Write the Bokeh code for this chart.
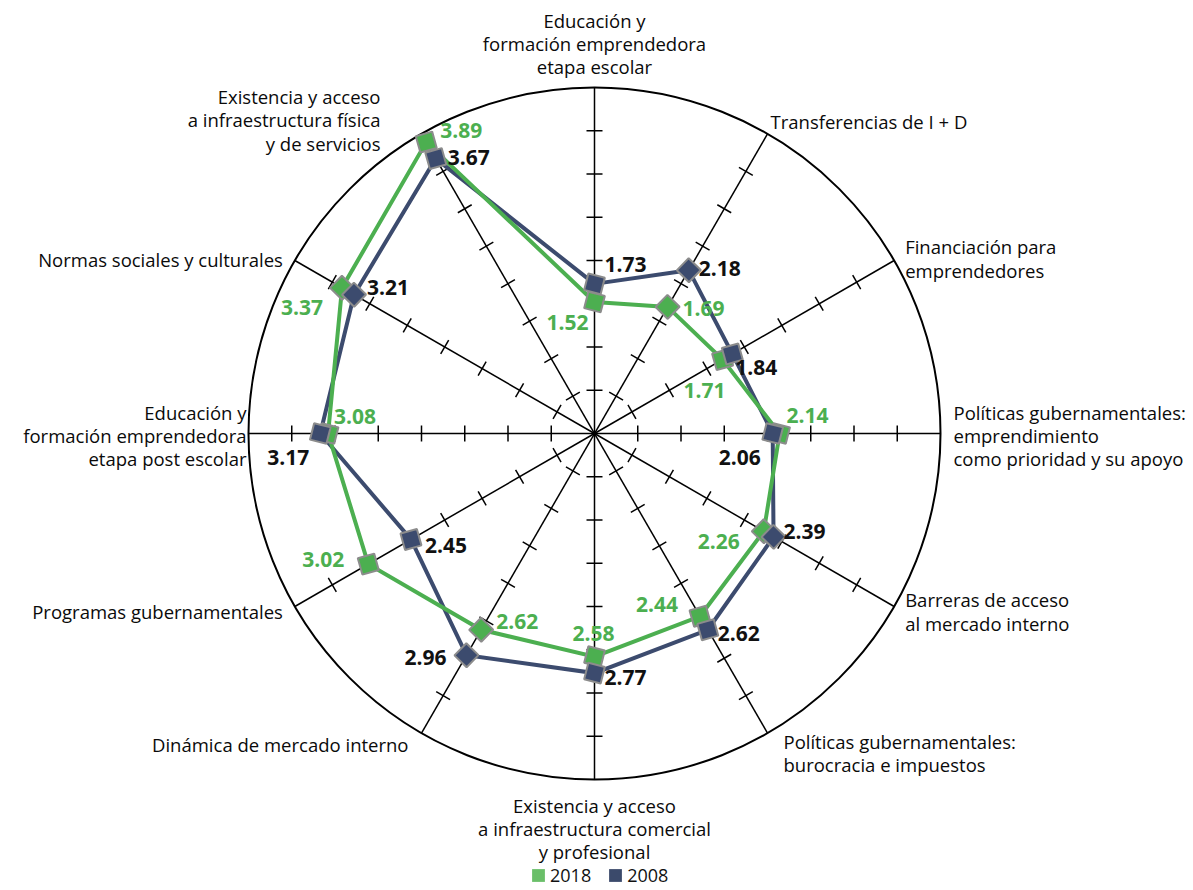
import math
from bokeh.plotting import figure
from bokeh.models import Range1d, Legend, LegendItem, ColumnDataSource
from bokeh.core.properties import value
from bokeh.embed import file_html
from bokeh.resources import INLINE

# ---------------- data ----------------
categories = [
    "Educación y\nformación emprendedora\netapa escolar",
    "Transferencias de I + D",
    "Financiación para\nemprendedores",
    "Políticas gubernamentales:\nemprendimiento\ncomo prioridad y su apoyo",
    "Barreras de acceso\nal mercado interno",
    "Políticas gubernamentales:\nburocracia e impuestos",
    "Existencia y acceso\na infraestructura comercial\ny profesional",
    "Dinámica de mercado interno",
    "Programas gubernamentales",
    "Educación y\nformación emprendedora\netapa post escolar",
    "Normas sociales y culturales",
    "Existencia y acceso\na infraestructura física\ny de servicios",
]
values_2018 = [1.52, 1.69, 1.71, 2.14, 2.26, 2.44, 2.58, 2.62, 3.02, 3.08, 3.37, 3.89]
values_2008 = [1.73, 2.18, 1.84, 2.06, 2.39, 2.62, 2.77, 2.96, 2.45, 3.17, 3.21, 3.67]
series_names = ["2018", "2008"]
tick_values = [0.5, 1.0, 1.5, 2.0, 2.5, 3.0, 3.5]
r_max = 4.0

# ---------------- styles / layout ----------------
GREEN = "#4caf50"
NAVY = "#3c4b6e"
LEG_GREEN = "#6abf69"
LEG_NAVY = "#3b4a6b"
K = 86.5  # pixels per unit
W, H = 1193, 890
CX, CY = 594, 433  # centre in plot pixels (from top-left)

# label offsets (pixels, left edge / vertical middle) for value labels
off_2018 = [(-48, 20), (15, 2), (-39, 31), (7, -18), (-66, 10), (-64, -12),
            (-22, -23), (15, -8), (-66, -5), (6, -17), (-61, 20), (14, -12)]
off_2008 = [(10, -19), (10, -2), (3, 14), (-54, 24), (10, -5), (10, 4),
            (10, 4), (-62, 2), (14, 6), (-53, 24), (13, -7), (12, -1)]
# category label anchors: (align, dx, dy)
cat_anchor = [("center", 0, -44), ("left", 3, -12), ("left", 11, -2), ("left", 13, 2),
              ("left", 11, 5), ("left", 16, 20), ("center", 0, 49), ("right", -13, 11),
              ("right", -12, 5), ("right", -2, 2), ("right", -12, -1), ("right", -41, -14)]

n = len(categories)
thetas = [2 * math.pi * i / n for i in range(n)]  # clockwise from top


def polar(v, t):
    return v * math.sin(t), v * math.cos(t)


p = figure(width=W, height=H, output_backend="svg", toolbar_location=None,
           x_range=Range1d(-CX / K, (W - CX) / K), y_range=Range1d(-(H - CY) / K, CY / K),
           x_axis_location=None, y_axis_location=None, min_border=0)
p.grid.visible = False
p.outline_line_color = None
p.background_fill_color = "white"
p.border_fill_color = "white"

# outer circle
p.circle(x=[0], y=[0], radius=r_max, fill_color=None, line_color="black", line_width=2)

# spokes
ex = [polar(r_max, t)[0] for t in thetas]
ey = [polar(r_max, t)[1] for t in thetas]
p.segment(x0=[0] * n, y0=[0] * n, x1=ex, y1=ey, line_color="black", line_width=1.5)

# ticks
h = 8 / K
tx0, ty0, tx1, ty1 = [], [], [], []
for t in thetas:
    for tv in tick_values:
        x, y = polar(tv, t)
        px, py = math.cos(t), -math.sin(t)  # perpendicular direction
        tx0.append(x - h * px); ty0.append(y - h * py)
        tx1.append(x + h * px); ty1.append(y + h * py)
p.segment(x0=tx0, y0=ty0, x1=tx1, y1=ty1, line_color="black", line_width=1.5)

# series
pts = {}
for name, vals in (("2008", values_2008), ("2018", values_2018)):
    xs = [polar(v, t)[0] for v, t in zip(vals, thetas)]
    ys = [polar(v, t)[1] for v, t in zip(vals, thetas)]
    pts[name] = (xs, ys)

for name, col in (("2008", NAVY), ("2018", GREEN)):
    xs, ys = pts[name]
    p.line(x=xs + xs[:1], y=ys + ys[:1], line_color=col, line_width=4, line_join="miter")

for name, col in (("2018", GREEN), ("2008", NAVY)):
    xs, ys = pts[name]
    p.scatter(x=xs, y=ys, marker="square", size=17, angle=[-t - 0.25 for t in thetas],
              fill_color=col, line_color="#8c8c8c", line_width=2)

# value labels
for name, vals, offs, col in (("2018", values_2018, off_2018, GREEN),
                              ("2008", values_2008, off_2008, "#111111")):
    xs, ys = pts[name]
    src = ColumnDataSource(dict(x=xs, y=ys, t=["%.2f" % v for v in vals],
                                dx=[o[0] for o in offs], dy=[o[1] for o in offs]))
    p.text(x="x", y="y", text="t", source=src, x_offset="dx", y_offset="dy",
           text_align="left", text_baseline="middle", text_color=col,
           text_font=value("Open Sans"), text_font_style="bold", text_font_size="21px")

# category labels
for cat, t, (al, dx, dy) in zip(categories, thetas, cat_anchor):
    x, y = polar(r_max, t)
    p.text(x=[x], y=[y], text=[cat], x_offset=dx, y_offset=dy, text_align=al,
           text_baseline="middle", text_color="#0a0a0a", text_font=value("Open Sans"),
           text_font_size="18.5px", text_line_height=0.93)

# legend (swatch renderers have zero-size data so nothing is drawn on the chart)
r18 = p.quad(left=[0], right=[0], top=[0], bottom=[0], fill_color=LEG_GREEN, line_color=None)
r08 = p.quad(left=[0], right=[0], top=[0], bottom=[0], fill_color=LEG_NAVY, line_color=None)
legend = Legend(items=[LegendItem(label=series_names[0], renderers=[r18]),
                       LegendItem(label=series_names[1], renderers=[r08])],
                location=(530, 3), orientation="horizontal", padding=0, margin=0,
                spacing=16, glyph_width=16, glyph_height=16, label_standoff=4,
                label_text_font="Open Sans", label_text_font_size="18px",
                label_text_color="#111111", border_line_color=None,
                background_fill_alpha=0)
p.add_layout(legend)

open("out.html", "w").write(file_html(p, INLINE))
